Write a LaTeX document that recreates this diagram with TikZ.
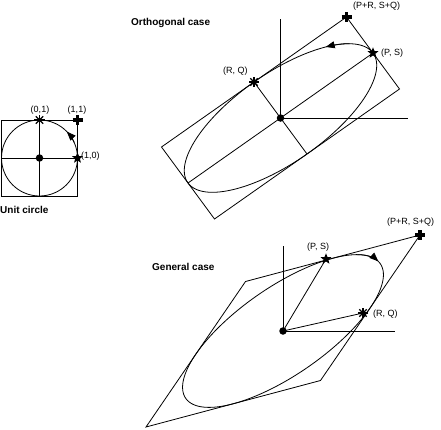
\documentclass[tikz,border=0pt]{standalone}
\usepackage{fontspec}
\setmainfont{Liberation Sans}
\usetikzlibrary{shapes.geometric,arrows.meta}
\tikzset{
  ln/.style={line width=0.8pt},
  lbl/.style={font=\fontsize{9}{10}\selectfont, inner sep=0pt, anchor=west},
  ttl/.style={font=\fontsize{10}{12}\selectfont\bfseries, inner sep=0pt, anchor=west},
  arr/.style={line width=0.8pt, -{Triangle[length=9pt,width=7pt]}},
  starnode/.style={star, star points=5, star point ratio=2.3, fill=black, inner sep=0pt, minimum size=11.5pt},
  dotnode/.style={circle, fill=black, inner sep=0pt, minimum size=7.5pt},
  plusmark/.pic={\draw[line width=3.2pt] (-5,0)--(5,0) (0,-5)--(0,5);},
  astmark/.pic={\foreach \ang in {0,45,90,135}{\draw[line width=1.2pt] (\ang:5.2)--(\ang+180:5.2);}\fill (0,0) circle (2);},
}
\begin{document}
\begin{tikzpicture}[x=1pt,y=-1pt]
\useasboundingbox (0,0) rectangle (441,429);

% ---------------- Unit circle ----------------
\coordinate (u0) at (39.5,158);
\coordinate (uBL) at (1.5,196);
\coordinate (uTR) at (77.5,120);
\coordinate (u10) at (77.5,158);
\coordinate (u01) at (39.5,120);
\coordinate (u11) at (77.5,120);
\coordinate (uL) at (1.5,158);
\coordinate (uB) at (39.5,196);
\draw[ln] (uBL) rectangle (uTR);
\draw[ln] (u0) circle (38);
\draw[ln] (uL) -- (u10);
\draw[ln] (u01) -- (uB);
\draw[arr] plot[domain=24:44, samples=20, variable=\t] ({39.5+38*cos(\t)},{158-38*sin(\t)});
\node[dotnode] (ud) at (u0) {};
\node[starnode] (us) at (u10) {};
\pic at (u01) {astmark};
\pic at (u11) {plusmark};
\node[lbl, anchor=center] (l01) at (40,110) {(0,1)};
\node[lbl, anchor=center] (l11) at (77,110) {(1,1)};
\node[lbl] (l10) at (81,156) {(1,0)};
\node[ttl] (tu) at (0,210) {Unit circle};

% ---------------- Orthogonal case ----------------
% c=(280.5,118), a=(92.5,-65), b=(-26.5,-36)
\coordinate (oc) at (280.5,118);
\coordinate (oPS) at (373,53);
\coordinate (oRQ) at (254,82);
\coordinate (oPR) at (346.5,17);
\coordinate (oC2) at (399.5,89);
\coordinate (oC3) at (214.5,219);
\coordinate (oC4) at (161.5,147);
\coordinate (omA) at (188,183);
\coordinate (omB) at (307,154);
\coordinate (oY) at (280.5,19);
\coordinate (oX) at (408,118);
\draw[ln] plot[domain=0:360, samples=150, variable=\t] ({280.5+92.5*cos(\t)-26.5*sin(\t)},{118-65*cos(\t)-36*sin(\t)}) -- cycle;
\draw[ln] (oPR) -- (oC2) -- (oC3) -- (oC4) -- cycle;
\draw[ln] (oPS) -- (omA);
\draw[ln] (oRQ) -- (omB);
\draw[ln] (oc) -- (oY);
\draw[ln] (oc) -- (oX);
\draw[arr] plot[domain=28:46, samples=20, variable=\t] ({280.5+92.5*cos(\t)-26.5*sin(\t)},{118-65*cos(\t)-36*sin(\t)});
\node[dotnode] (od) at (oc) {};
\node[starnode] (os) at (oPS) {};
\pic at (oRQ) {astmark};
\pic at (oPR) {plusmark};
\node[ttl] (to) at (131,23) {Orthogonal case};
\node[lbl] (loPR) at (353,6) {(P+R, S+Q)};
\node[lbl] (loPS) at (381,53) {(P, S)};
\node[lbl] (loRQ) at (223,71) {(R, Q)};

% ---------------- General case ----------------
% c=(283,331), a=(49.75,-72.75), b=(87.25,-23.25)
\coordinate (gc) at (283,331);
\coordinate (gPS) at (326,259);
\coordinate (gRQ) at (363,313);
\coordinate (gPR) at (420,235);
\coordinate (gC2) at (245.5,281.5);
\coordinate (gC3) at (146,427);
\coordinate (gC4) at (320.5,380.5);
\coordinate (gY) at (283,246);
\coordinate (gX) at (395,331);
\draw[ln] plot[domain=0:360, samples=150, variable=\t] ({283+49.75*cos(\t)+87.25*sin(\t)},{331-72.75*cos(\t)-23.25*sin(\t)}) -- cycle;
\draw[ln] (gPR) -- (gC2) -- (gC3) -- (gC4) -- cycle;
\draw[ln] (gc) -- (gPS);
\draw[ln] (gc) -- (gRQ);
\draw[ln] (gc) -- (gY);
\draw[ln] (gc) -- (gX);
\draw[arr] plot[domain=18:42, samples=20, variable=\t] ({283+49.75*cos(\t)+87.25*sin(\t)},{331-72.75*cos(\t)-23.25*sin(\t)});
\node[dotnode] (gd) at (gc) {};
\node[starnode] (gs) at (gPS) {};
\pic at (gRQ) {astmark};
\pic at (gPR) {plusmark};
\node[ttl] (tg) at (152,267) {General case};
\node[lbl] (lgPS) at (307,247) {(P, S)};
\node[lbl] (lgRQ) at (373,314) {(R, Q)};
\node[lbl] (lgPR) at (387,222) {(P+R, S+Q)};
\end{tikzpicture}
\end{document}
